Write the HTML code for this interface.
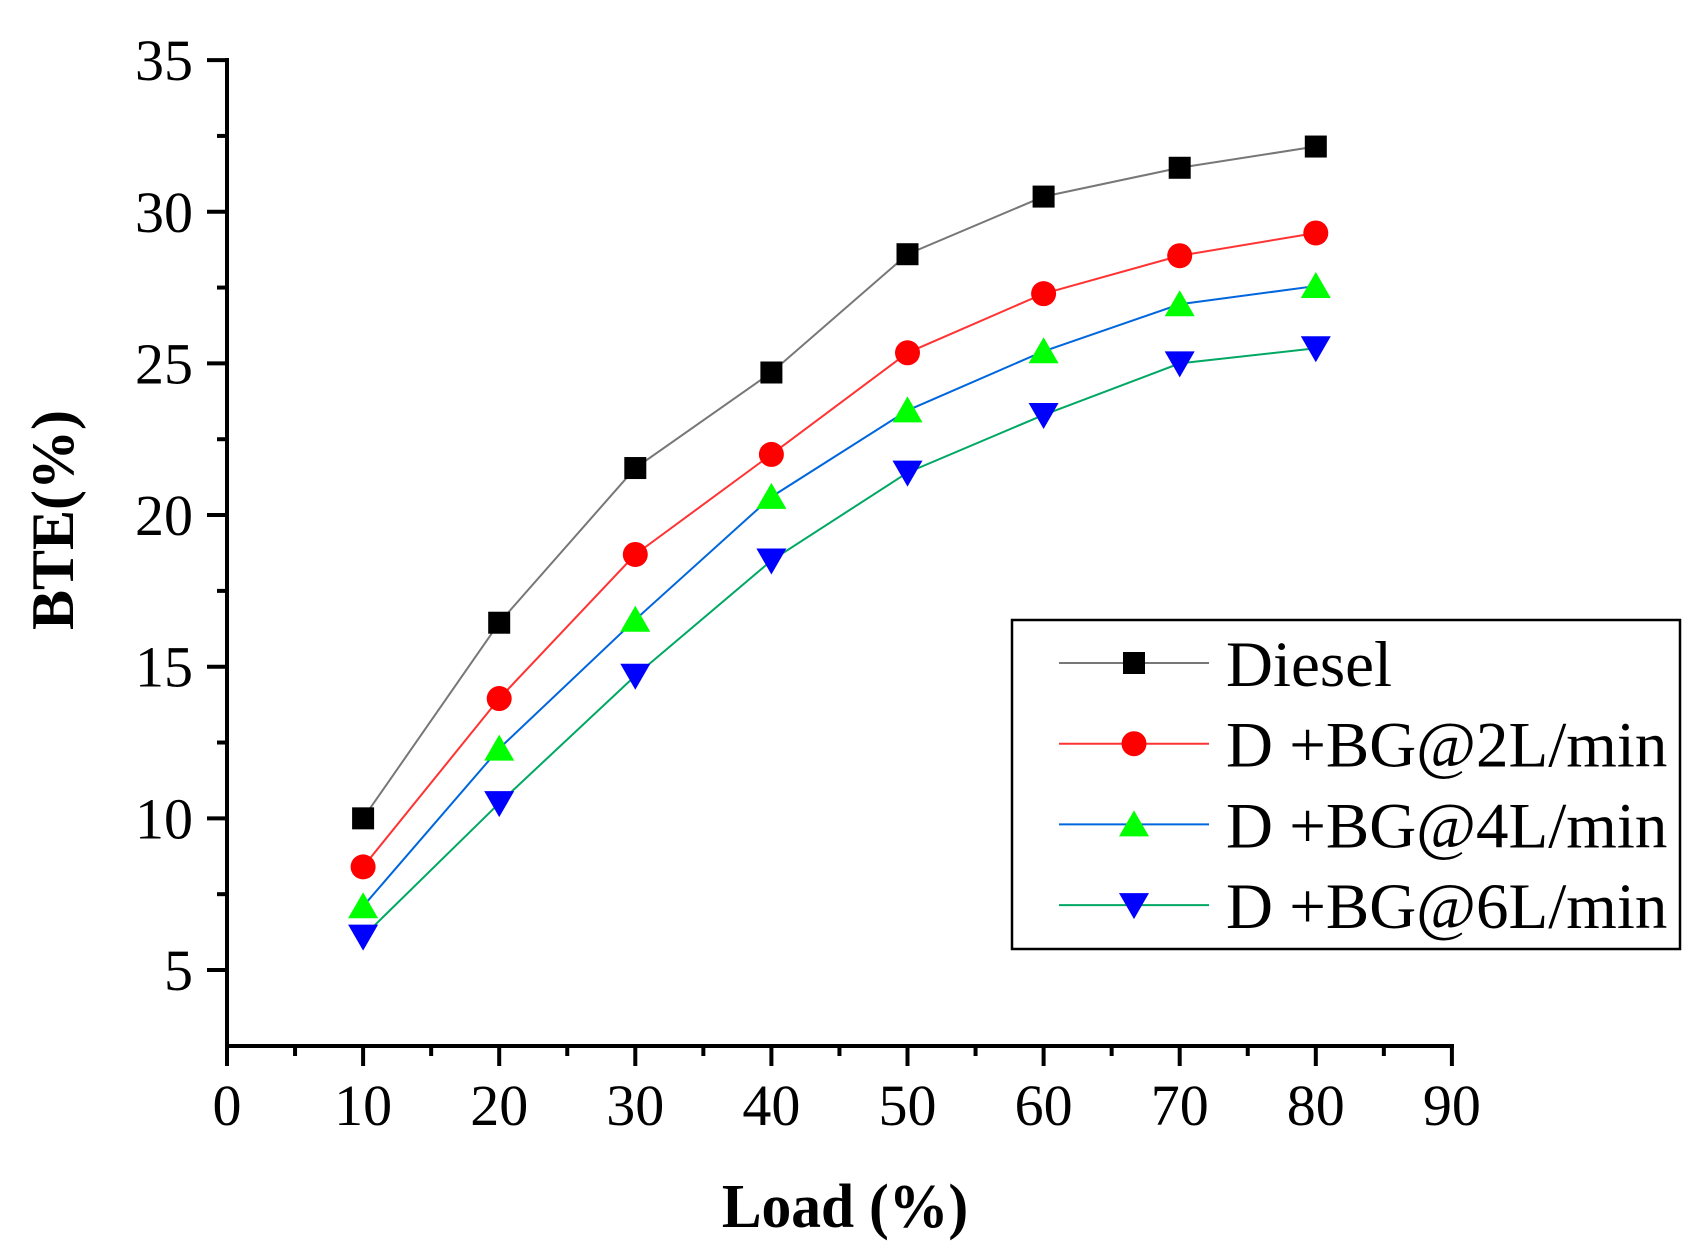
<!DOCTYPE html>
<html><head><meta charset="utf-8"><style>html,body{margin:0;padding:0;background:#fff}</style></head>
<body>
<svg width="1704" height="1255" viewBox="0 0 1704 1255" xmlns="http://www.w3.org/2000/svg" font-family="'Liberation Serif', serif">
<rect width="1704" height="1255" fill="#fff"/>
<g id="plot"></g>
<script>
(function(){
const X=v=>227+v*13.61, Y=v=>970-(v-5)*30.33;
const g=document.getElementById('plot');const NS='http://www.w3.org/2000/svg';
function el(t,a,txt){const e=document.createElementNS(NS,t);for(const k in a)e.setAttribute(k,a[k]);if(txt!==undefined)e.textContent=txt;g.appendChild(e);return e;}
el('line',{x1:227,y1:58,x2:227,y2:1048,stroke:'#000','stroke-width':4});
el('line',{x1:225,y1:1046,x2:1454,y2:1046,stroke:'#000','stroke-width':4});
for(let v=0;v<=90;v+=5){const x=X(v);const maj=v%10===0;el('line',{x1:x,y1:1046,x2:x,y2:maj?1066:1056,stroke:'#000','stroke-width':4});
 if(maj)el('text',{x:x,y:1125,'font-size':58,'text-anchor':'middle'},String(v));}
for(let v=5;v<=35;v+=2.5){const y=Y(v);const maj=v%5===0;el('line',{x1:227,y1:y,x2:maj?207:217,y2:y,stroke:'#000','stroke-width':4});
 if(maj)el('text',{x:193,y:y+20,'font-size':58,'text-anchor':'end'},String(v));}
el('text',{x:0,y:0,'font-size':60,'font-weight':'bold','text-anchor':'middle',transform:'translate(73,520) rotate(-90)'},'BTE(%)');
el('text',{x:0,y:0,'font-size':62,'font-weight':'bold','text-anchor':'middle',transform:'translate(845,1227) scale(0.96,1)'},'Load (%)');
const xs=[10,20,30,40,50,60,70,80];
const S=[
 {d:[10.0,16.45,21.55,24.7,28.6,30.5,31.45,32.15],lc:'#777',mc:'#000',m:'sq',name:'Diesel'},
 {d:[8.4,13.95,18.7,22.0,25.35,27.3,28.55,29.3],lc:'#ff3333',mc:'#ff0000',m:'ci',name:'D +BG@2L/min'},
 {d:[7.1,12.3,16.55,20.6,23.45,25.4,26.95,27.55],lc:'#0066dd',mc:'#00ff00',m:'tu',name:'D +BG@4L/min'},
 {d:[6.1,10.5,14.7,18.5,21.4,23.3,25.0,25.5],lc:'#00a864',mc:'#0000ff',m:'td',name:'D +BG@6L/min'}];
function mk(m,x,y,c){
 if(m==='sq')el('rect',{x:x-11,y:y-11,width:22,height:22,fill:c});
 else if(m==='ci')el('circle',{cx:x,cy:y,r:12.5,fill:c});
 else if(m==='tu')el('polygon',{points:`${x-15},${y+12} ${x+15},${y+12} ${x},${y-14}`,fill:c});
 else el('polygon',{points:`${x-15},${y-12} ${x+15},${y-12} ${x},${y+14}`,fill:c});}
S.forEach(s=>{el('polyline',{points:xs.map((v,i)=>X(v)+','+Y(s.d[i])).join(' '),fill:'none',stroke:s.lc,'stroke-width':2});
 xs.forEach((v,i)=>mk(s.m,X(v),Y(s.d[i]),s.mc));});
el('rect',{x:1012,y:620,width:668,height:329,fill:'#fff',stroke:'#000','stroke-width':2.5});
S.forEach((s,i)=>{const y=663+i*80.7;el('line',{x1:1059,y1:y,x2:1209,y2:y,stroke:s.lc,'stroke-width':2});mk(s.m,1134,y,s.mc);
 el('text',{x:1226,y:y+23,'font-size':65},s.name);});
})();
</script>
</svg>
</body></html>
